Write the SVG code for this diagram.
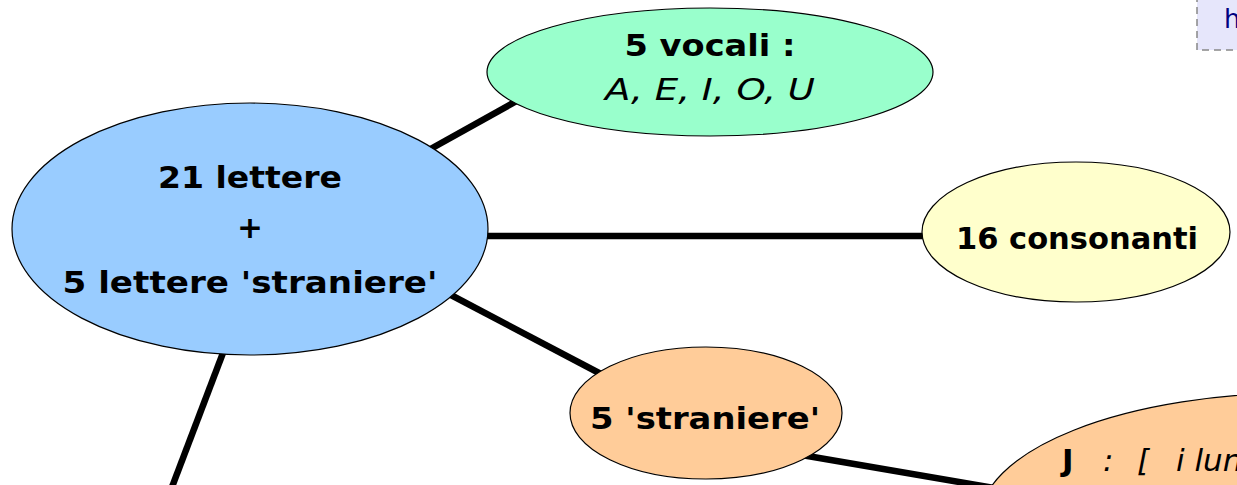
<svg xmlns="http://www.w3.org/2000/svg" width="1237" height="485" viewBox="0 0 1237 485">
<style>
.node{stroke:#000;stroke-width:1.2}
.t{font-family:"Comic Sans MS","DejaVu Sans",sans-serif;fill:#000;text-anchor:middle}
.b{font-weight:bold;font-size:31px}
.i{font-style:italic;font-size:31px}
.edge{stroke:#000;stroke-width:6.5;fill:none;stroke-linecap:butt}
</style>
<rect width="1237" height="485" fill="#fff"/>
<g id="connectors">
<line class="edge" x1="400" y1="166" x2="540" y2="88"/>
<line class="edge" x1="470" y1="236" x2="940" y2="236"/>
<line class="edge" x1="430" y1="284" x2="620" y2="384"/>
<line class="edge" x1="226" y1="345" x2="172" y2="487"/>
<line class="edge" x1="790" y1="453" x2="1000" y2="489"/>
</g>
<g id="note-h">
<rect x="1197" y="-10" width="60" height="60" fill="#e6e6fb" stroke="#888" stroke-width="1.5" stroke-dasharray="7,5"/>
<text x="1224" y="28" style="font-family:'DejaVu Sans',sans-serif;font-size:26px;fill:#000080">h</text>
</g>
<g id="main">
<ellipse class="node" cx="250" cy="229" rx="238" ry="126" fill="#99ccff"/>
<text class="t b" x="250" y="188" textLength="184" lengthAdjust="spacingAndGlyphs">21 lettere</text>
<text class="t b" x="250" y="238">+</text>
<text class="t b" x="250" y="293" textLength="375" lengthAdjust="spacingAndGlyphs">5 lettere 'straniere'</text>
</g>
<g id="vocali">
<ellipse class="node" cx="710" cy="72" rx="223" ry="64" fill="#99ffcc"/>
<text class="t b" x="710" y="56" textLength="171" lengthAdjust="spacingAndGlyphs">5 vocali :</text>
<text class="t i" x="710" y="100" textLength="210" lengthAdjust="spacingAndGlyphs">A, E, I, O, U</text>
</g>
<g id="consonanti">
<ellipse class="node" cx="1076" cy="232" rx="154" ry="70" fill="#ffffcc"/>
<text class="t b" x="1077" y="249" textLength="242" lengthAdjust="spacingAndGlyphs">16 consonanti</text>
</g>
<g id="straniere">
<ellipse class="node" cx="706" cy="413" rx="136" ry="66" fill="#ffcc99"/>
<text class="t b" x="705" y="429" textLength="230" lengthAdjust="spacingAndGlyphs">5 'straniere'</text>
</g>
<g id="j-node">
<ellipse class="node" cx="1300" cy="520" rx="320" ry="127" fill="#ffcc99"/>
<text y="471" style="font-family:'Comic Sans MS','DejaVu Sans',sans-serif;font-size:31px;fill:#000"><tspan x="1062" font-weight="bold">J</tspan><tspan x="1103" font-style="italic">:</tspan><tspan x="1137" font-style="italic">[</tspan><tspan x="1176" font-style="italic">i lun</tspan></text>
</g>
</svg>
